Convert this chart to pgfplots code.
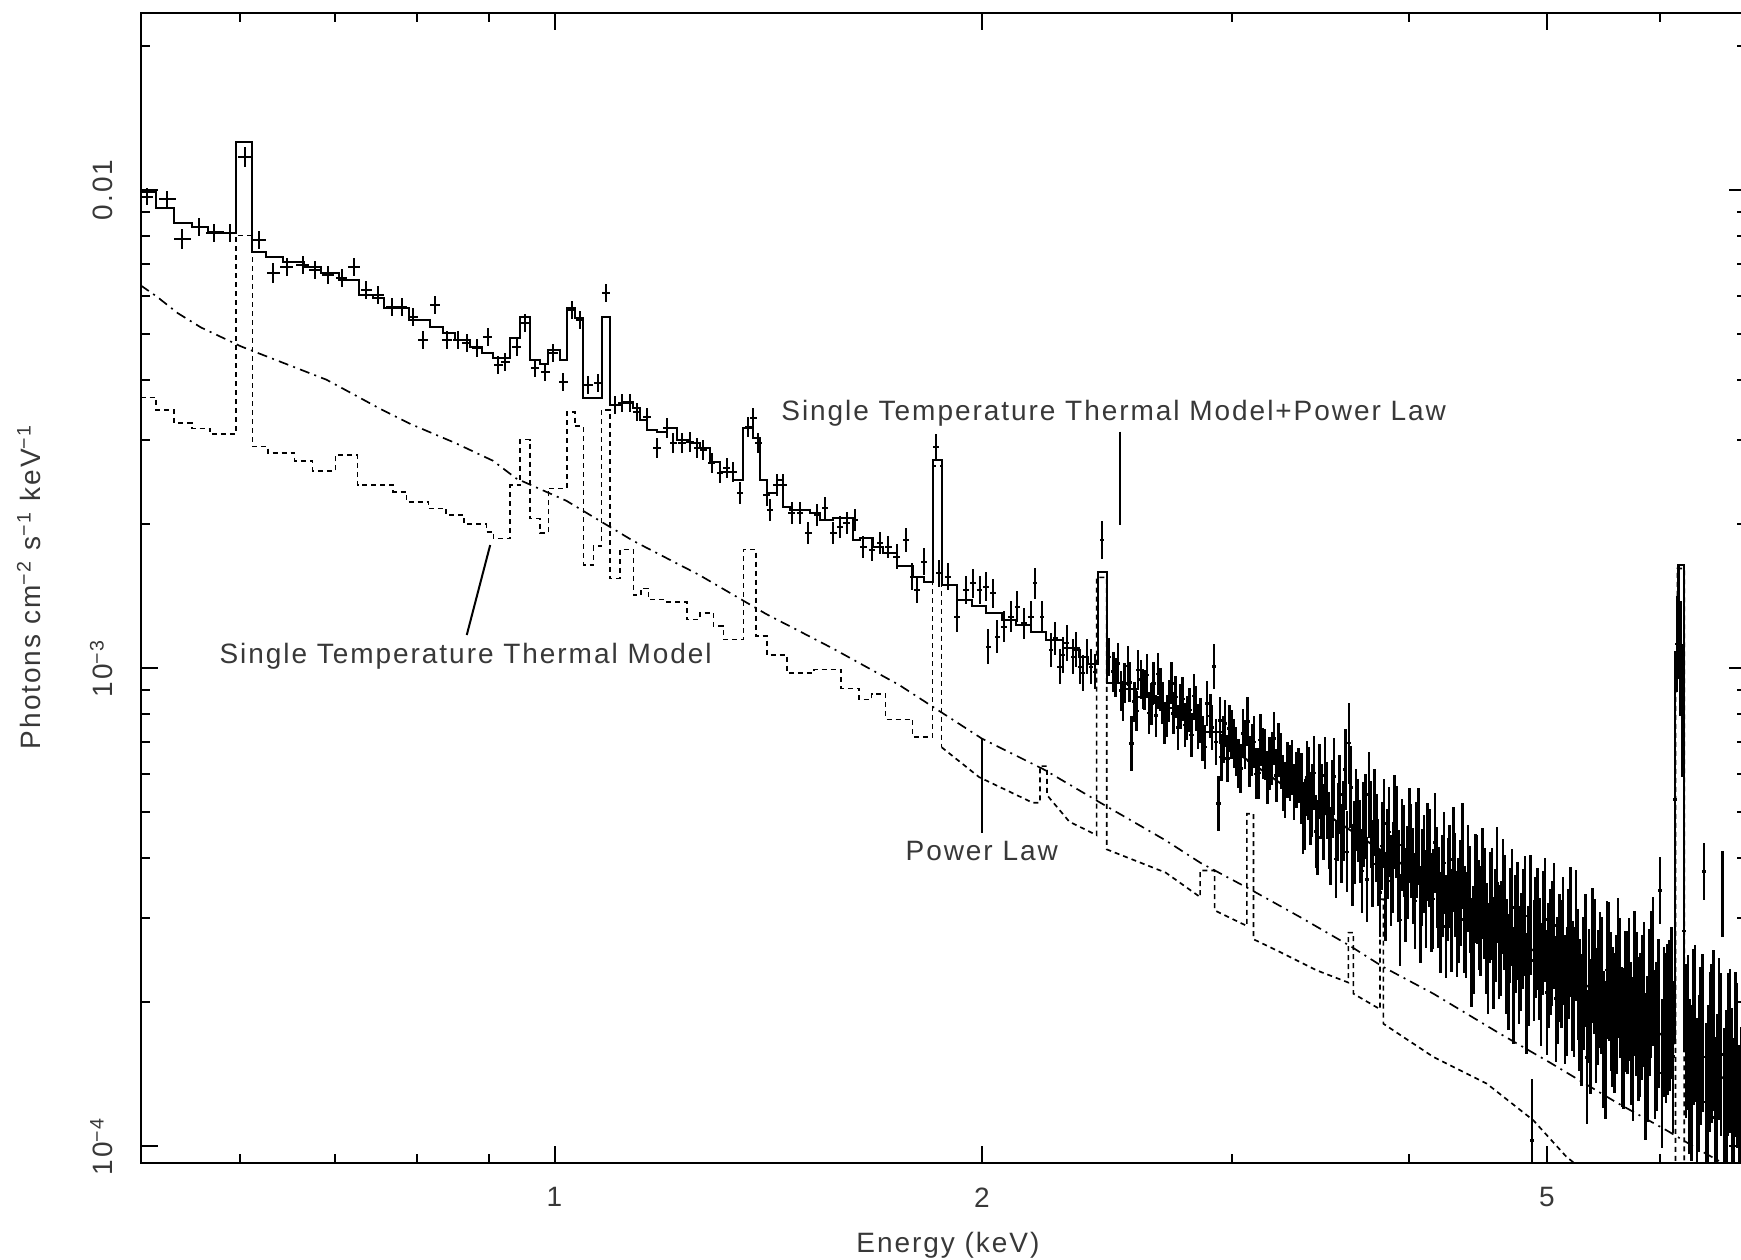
\documentclass[border=0pt]{standalone}
\usepackage{fontspec}
\setmainfont{Liberation Sans}[LetterSpace=7]
\usepackage{pgfplots}
\pgfplotsset{compat=1.18}
\usepackage{pgfplotstable}
\newcommand\lblfont{\fontsize{8.4}{10}\selectfont}
\colorlet{txt}{black!78}

% columns: log10(E/keV), log10(photons cm^-2 s^-1 keV^-1), half bin width, error
\pgfplotstableread{
x y ex ey
-0.2867 -2.0139 0.0042 0.0174
-0.2726 -2.0195 0.0060 0.0163
-0.2622 -2.1034 0.0060 0.0209
-0.2506 -2.0767 0.0055 0.0186
-0.2396 -2.0906 0.0055 0.0186
-0.2286 -2.0906 0.0050 0.0186
-0.2182 -1.9303 0.0050 0.0209
-0.2081 -2.1048 0.0050 0.0186
-0.1981 -2.1731 0.0047 0.0209
-0.1887 -2.1605 0.0047 0.0186
-0.1773 -2.1570 0.0047 0.0186
-0.1688 -2.1675 0.0042 0.0186
-0.1594 -2.1779 0.0042 0.0186
-0.1500 -2.1849 0.0042 0.0186
-0.1411 -2.1605 0.0042 0.0186
-0.1327 -2.2093 0.0039 0.0186
-0.1242 -2.2197 0.0039 0.0186
-0.1145 -2.2441 0.0039 0.0186
-0.1075 -2.2441 0.0035 0.0186
-0.0994 -2.2650 0.0035 0.0186
-0.0923 -2.3138 0.0035 0.0186
-0.0841 -2.2407 0.0035 0.0186
-0.0759 -2.3138 0.0035 0.0186
-0.0677 -2.3138 0.0035 0.0186
-0.0618 -2.3208 0.0031 0.0186
-0.0547 -2.3312 0.0031 0.0186
-0.0470 -2.3069 0.0031 0.0186
-0.0395 -2.3663 0.0031 0.0186
-0.0348 -2.3594 0.0031 0.0186
-0.0266 -2.3278 0.0031 0.0186
-0.0207 -2.2790 0.0031 0.0186
-0.0137 -2.3733 0.0031 0.0186
-0.0066 -2.3803 0.0031 0.0186
-0.0008 -2.3417 0.0031 0.0186
0.0063 -2.4012 0.0031 0.0186
0.0121 -2.2511 0.0031 0.0186
0.0180 -2.2720 0.0031 0.0186
0.0238 -2.4081 0.0031 0.0186
0.0309 -2.4046 0.0031 0.0186
0.0363 -2.2163 0.0027 0.0186
0.0426 -2.4499 0.0027 0.0186
0.0473 -2.4465 0.0027 0.0186
0.0532 -2.4465 0.0027 0.0186
0.0579 -2.4639 0.0027 0.0186
0.0650 -2.4743 0.0027 0.0186
0.0720 -2.5405 0.0027 0.0209
0.0790 -2.4987 0.0027 0.0209
0.0837 -2.5301 0.0027 0.0209
0.0896 -2.5301 0.0027 0.0209
0.0955 -2.5266 0.0027 0.0209
0.1002 -2.5405 0.0023 0.0209
0.1048 -2.5440 0.0023 0.0209
0.1107 -2.5719 0.0023 0.0209
0.1166 -2.5928 0.0023 0.0209
0.1213 -2.5824 0.0023 0.0209
0.1260 -2.5893 0.0023 0.0209
0.1307 -2.6346 0.0023 0.0232
0.1365 -2.4952 0.0023 0.0209
0.1400 -2.4778 0.0023 0.0209
0.1436 -2.5301 0.0023 0.0209
0.1494 -2.6381 0.0023 0.0232
0.1518 -2.6695 0.0023 0.0232
0.1565 -2.6172 0.0023 0.0232
0.1611 -2.6172 0.0023 0.0232
0.1670 -2.6767 0.0023 0.0232
0.1729 -2.6767 0.0023 0.0232
0.1788 -2.7185 0.0023 0.0232
0.1847 -2.6801 0.0023 0.0232
0.1905 -2.6662 0.0023 0.0232
0.1964 -2.7185 0.0023 0.0232
0.2011 -2.7045 0.0023 0.0232
0.2058 -2.6976 0.0023 0.0232
0.2117 -2.6906 0.0023 0.0232
0.2176 -2.7464 0.0023 0.0232
0.2235 -2.7533 0.0023 0.0232
0.2293 -2.7394 0.0023 0.0232
0.2352 -2.7464 0.0023 0.0232
0.2410 -2.7673 0.0023 0.0256
0.2474 -2.7324 0.0020 0.0256
0.2521 -2.8091 0.0020 0.0279
0.2553 -2.8369 0.0020 0.0279
0.2600 -2.7777 0.0020 0.0279
0.2687 -2.5387 0.0020 0.0279
0.2710 -2.8021 0.0020 0.0279
0.2773 -2.8091 0.0020 0.0279
0.2835 -2.8927 0.0020 0.0325
0.2898 -2.8369 0.0020 0.0302
0.2945 -2.8230 0.0020 0.0302
0.2993 -2.8369 0.0020 0.0302
0.3040 -2.8300 0.0020 0.0302
0.3056 -2.9554 0.0020 0.0372
0.3087 -2.8439 0.0020 0.0302
0.3119 -2.9345 0.0020 0.0348
0.3166 -2.9136 0.0020 0.0325
0.3213 -2.8927 0.0020 0.0325
0.3260 -2.8718 0.0020 0.0325
0.3307 -2.9066 0.0020 0.0325
0.3354 -2.8927 0.0020 0.0325
0.3385 -2.8230 0.0016 0.0325
0.3433 -2.8927 0.0016 0.0325
0.3496 -2.9626 0.0016 0.0348
0.3527 -2.9382 0.0016 0.0348
0.3558 -2.9972 0.0016 0.0372
0.3582 -2.9731 0.0016 0.0372
0.3606 -2.9484 0.0016 0.0372
0.3653 -2.9765 0.0016 0.0372
0.3676 -2.9615 0.0016 0.0372
0.3700 -2.9972 0.0016 0.0372
0.3723 -3.0102 0.0016 0.0372
0.3747 -2.9765 0.0016 0.0372
0.3779 -2.9972 0.0016 0.0372
0.3805 -3.0079 0.0016 0.0372
0.3857 -2.7324 0.0016 0.0395
0.3905 -2.9765 0.0016 0.0395
}\specA

\pgfplotstableread{
x y ex ey
0.3936 -3.0079 0.0016 0.0418
0.3952 -3.0200 0.0016 0.0418
0.3967 -2.9905 0.0016 0.0418
0.3991 -3.0474 0.0016 0.0418
0.4003 -3.0700 0.0016 0.0418
0.4015 -3.0323 0.0016 0.0418
0.4038 -2.9963 0.0016 0.0418
0.4050 -3.0300 0.0016 0.0418
0.4062 -3.1577 0.0016 0.0581
0.4085 -3.0706 0.0016 0.0418
0.4097 -3.0900 0.0016 0.0418
0.4109 -3.0044 0.0016 0.0418
0.4132 -3.0242 0.0016 0.0418
0.4144 -3.0450 0.0016 0.0418
0.4156 -3.0462 0.0016 0.0418
0.4172 -3.0150 0.0016 0.0441
0.4188 -3.0939 0.0016 0.0441
0.4204 -3.0750 0.0016 0.0441
0.4219 -3.0323 0.0016 0.0441
0.4235 -3.1000 0.0016 0.0441
0.4250 -3.0125 0.0016 0.0441
0.4266 -3.0450 0.0016 0.0441
0.4281 -3.0741 0.0016 0.0441
0.4297 -3.1150 0.0016 0.0441
0.4313 -3.1010 0.0016 0.0441
0.4328 -3.0700 0.0016 0.0441
0.4344 -3.0323 0.0016 0.0441
0.4360 -3.0950 0.0016 0.0441
0.4375 -3.0613 0.0016 0.0441
0.4391 -3.1250 0.0016 0.0465
0.4407 -3.0811 0.0016 0.0465
0.4423 -3.0650 0.0016 0.0465
0.4439 -3.1196 0.0016 0.0465
0.4455 -3.1050 0.0016 0.0465
0.4471 -3.0880 0.0016 0.0465
0.4486 -3.1400 0.0016 0.0465
0.4502 -3.0590 0.0016 0.0465
0.4518 -3.0850 0.0016 0.0465
0.4533 -3.1229 0.0016 0.0465
0.4549 -3.1100 0.0016 0.0465
0.4564 -3.1473 0.0016 0.0465
0.4580 -3.1650 0.0016 0.0465
0.4596 -3.0741 0.0016 0.0465
0.4619 -3.1010 0.0016 0.0465
0.4631 -3.1250 0.0016 0.0465
0.4643 -2.9972 0.0016 0.0465
0.4659 -3.1550 0.0016 0.0488
0.4675 -3.2832 0.0016 0.0581
0.4686 -3.1100 0.0016 0.0488
0.4698 -3.1868 0.0016 0.0488
0.4710 -3.1500 0.0016 0.0488
0.4722 -3.1159 0.0016 0.0488
0.4738 -3.1900 0.0016 0.0488
0.4753 -3.1266 0.0016 0.0488
0.4769 -3.1400 0.0016 0.0511
0.4785 -3.1577 0.0016 0.0511
0.4800 -3.1750 0.0016 0.0511
0.4816 -3.2007 0.0016 0.0511
0.4832 -3.2100 0.0016 0.0511
0.4848 -3.1368 0.0016 0.0511
0.4863 -3.1600 0.0016 0.0511
0.4879 -3.1124 0.0016 0.0511
0.4895 -3.1950 0.0016 0.0534
0.4911 -3.1717 0.0016 0.0534
0.4926 -3.1550 0.0016 0.0534
0.4942 -3.2216 0.0016 0.0534
0.4958 -3.2200 0.0016 0.0534
0.4973 -3.1508 0.0016 0.0534
0.4989 -3.1800 0.0016 0.0534
0.5005 -3.1821 0.0016 0.0534
0.5021 -3.2300 0.0016 0.0557
0.5037 -3.1996 0.0016 0.0557
0.5052 -3.1900 0.0016 0.0557
0.5068 -3.1473 0.0016 0.0557
0.5084 -3.2250 0.0016 0.0557
0.5099 -3.1717 0.0016 0.0557
0.5115 -3.1950 0.0016 0.0581
0.5131 -3.2402 0.0016 0.0581
0.5146 -3.2550 0.0016 0.0581
0.5162 -3.2135 0.0016 0.0581
0.5178 -3.2200 0.0016 0.0581
0.5193 -3.2079 0.0016 0.0581
0.5209 -3.2600 0.0016 0.0581
0.5224 -3.2344 0.0016 0.0581
0.5240 -3.2250 0.0016 0.0581
0.5259 -3.2519 0.0013 0.074
0.5272 -3.3144 0.0013 0.075
0.5285 -3.3069 0.0013 0.075
0.5298 -3.2294 0.0013 0.076
0.5311 -3.2420 0.0013 0.076
0.5324 -3.2945 0.0013 0.077
0.5336 -3.2770 0.0013 0.076
0.5349 -3.2195 0.0013 0.077
0.5362 -3.3420 0.0013 0.077
0.5375 -3.3545 0.0013 0.078
0.5388 -3.2371 0.0013 0.078
0.5401 -3.2796 0.0013 0.079
0.5414 -3.3221 0.0013 0.079
0.5427 -3.2246 0.0013 0.080
0.5440 -3.2772 0.0013 0.080
0.5453 -3.3397 0.0013 0.081
0.5465 -3.3722 0.0013 0.081
0.5478 -3.2747 0.0013 0.082
0.5491 -3.2272 0.0013 0.081
0.5504 -3.3997 0.0013 0.082
0.5517 -3.3223 0.0013 0.082
0.5530 -3.2648 0.0013 0.083
0.5543 -3.3673 0.0013 0.083
0.5556 -3.3198 0.0013 0.084
0.5569 -3.2123 0.0013 0.084
0.5582 -3.3848 0.0013 0.085
0.5594 -3.1574 0.0013 0.085
0.5607 -3.2499 0.0013 0.086
0.5620 -3.4124 0.0013 0.086
0.5633 -3.3649 0.0013 0.087
0.5646 -3.2974 0.0013 0.086
0.5659 -3.3199 0.0013 0.087
0.5672 -3.3625 0.0013 0.087
0.5685 -3.4250 0.0013 0.088
0.5698 -3.3275 0.0013 0.088
0.5711 -3.3100 0.0013 0.089
0.5723 -3.4425 0.0013 0.089
0.5736 -3.2650 0.0013 0.090
0.5749 -3.3276 0.0013 0.090
0.5762 -3.4101 0.0013 0.091
0.5775 -3.3026 0.0013 0.091
0.5788 -3.3551 0.0013 0.092
0.5801 -3.4077 0.0013 0.091
0.5814 -3.4702 0.0013 0.092
0.5827 -3.3727 0.0013 0.092
0.5840 -3.3252 0.0013 0.093
0.5852 -3.4777 0.0013 0.093
0.5865 -3.3902 0.0013 0.094
0.5878 -3.3428 0.0013 0.094
0.5891 -3.4453 0.0013 0.095
0.5904 -3.4178 0.0013 0.095
0.5917 -3.3203 0.0013 0.096
0.5930 -3.3428 0.0013 0.096
0.5943 -3.4353 0.0013 0.097
0.5956 -3.5279 0.0013 0.096
0.5969 -3.3704 0.0013 0.097
0.5981 -3.3829 0.0013 0.097
0.5994 -3.4754 0.0013 0.098
0.6007 -3.4279 0.0013 0.098
0.6020 -3.3504 0.0013 0.099
0.6033 -3.3830 0.0013 0.099
0.6046 -3.4355 0.0013 0.100
0.6059 -3.4880 0.0013 0.100
0.6072 -3.3805 0.0013 0.101
0.6085 -3.3531 0.0013 0.101
0.6098 -3.5155 0.0013 0.102
0.6110 -3.4381 0.0013 0.101
0.6123 -3.4106 0.0013 0.102
0.6136 -3.4831 0.0013 0.102
0.6149 -3.3856 0.0013 0.103
0.6162 -3.3982 0.0013 0.103
0.6175 -3.4907 0.0013 0.104
0.6188 -3.4832 0.0013 0.104
0.6201 -3.3657 0.0013 0.105
0.6214 -3.4382 0.0013 0.105
0.6227 -3.4807 0.0013 0.106
0.6239 -3.5333 0.0013 0.106
0.6252 -3.4558 0.0013 0.107
0.6265 -3.4083 0.0013 0.106
0.6278 -3.5408 0.0013 0.107
0.6291 -3.4633 0.0013 0.107
0.6304 -3.4358 0.0013 0.108
0.6317 -3.5284 0.0013 0.108
0.6330 -3.4009 0.0013 0.109
0.6343 -3.4534 0.0013 0.109
0.6356 -3.5359 0.0013 0.110
0.6368 -3.5084 0.0013 0.110
0.6381 -3.4709 0.0013 0.111
0.6394 -3.3935 0.0013 0.111
0.6407 -3.5260 0.0013 0.112
0.6420 -3.5385 0.0013 0.111
0.6433 -3.4410 0.0013 0.112
0.6446 -3.4836 0.0013 0.112
0.6459 -3.5961 0.0013 0.113
0.6472 -3.5686 0.0013 0.113
0.6485 -3.4611 0.0013 0.114
0.6497 -3.4636 0.0013 0.114
0.6510 -3.5161 0.0013 0.115
0.6523 -3.5287 0.0013 0.115
0.6536 -3.4512 0.0013 0.116
0.6549 -3.4937 0.0013 0.116
0.6562 -3.5662 0.0013 0.117
0.6575 -3.6087 0.0013 0.116
0.6588 -3.5012 0.0013 0.117
0.6601 -3.4938 0.0013 0.117
0.6614 -3.5963 0.0013 0.118
0.6626 -3.5388 0.0013 0.118
0.6639 -3.4513 0.0013 0.119
0.6652 -3.5738 0.0013 0.119
0.6665 -3.5663 0.0013 0.120
0.6678 -3.4789 0.0013 0.120
0.6691 -3.5114 0.0013 0.121
0.6704 -3.6039 0.0013 0.121
0.6717 -3.6364 0.0013 0.121
0.6730 -3.5390 0.0013 0.121
0.6743 -3.5015 0.0013 0.122
0.6755 -3.6640 0.0013 0.122
0.6768 -3.5565 0.0013 0.123
0.6781 -3.5290 0.0013 0.123
0.6794 -3.6215 0.0013 0.124
0.6807 -3.5941 0.0013 0.124
0.6820 -3.5466 0.0013 0.125
0.6833 -3.5191 0.0013 0.125
0.6846 -3.6816 0.0013 0.126
0.6859 -3.6241 0.0013 0.126
0.6872 -3.5166 0.0013 0.126
0.6884 -3.9892 0.0013 0.130
0.6897 -3.6117 0.0013 0.127
0.6910 -3.5642 0.0013 0.127
0.6923 -3.5467 0.0013 0.128
0.6936 -3.6092 0.0013 0.128
0.6949 -3.6617 0.0013 0.129
0.6962 -3.5543 0.0013 0.129
0.6975 -3.5268 0.0013 0.130
0.6988 -3.6793 0.0013 0.131
0.7001 -3.6218 0.0013 0.131
0.7013 -3.5943 0.0013 0.131
0.7026 -3.5768 0.0013 0.131
0.7039 -3.5394 0.0013 0.132
0.7052 -3.6919 0.0013 0.132
0.7065 -3.6544 0.0013 0.133
0.7078 -3.6069 0.0013 0.133
0.7091 -3.6195 0.0013 0.134
0.7104 -3.5720 0.0013 0.134
0.7117 -3.6945 0.0013 0.135
0.7130 -3.6770 0.0013 0.135
0.7142 -3.5995 0.0013 0.136
0.7155 -3.5520 0.0013 0.136
0.7168 -3.6646 0.0013 0.136
0.7181 -3.6771 0.0013 0.136
0.7194 -3.5596 0.0013 0.137
0.7207 -3.6421 0.0013 0.137
0.7220 -3.7046 0.0013 0.138
0.7233 -3.7371 0.0013 0.138
0.7246 -3.6597 0.0013 0.139
0.7259 -3.6122 0.0013 0.139
0.7271 -3.8147 0.0013 0.140
0.7284 -3.6872 0.0013 0.140
0.7297 -3.7497 0.0013 0.141
0.7310 -3.6022 0.0013 0.141
0.7323 -3.6248 0.0013 0.141
0.7336 -3.7273 0.0013 0.141
0.7349 -3.6898 0.0013 0.142
0.7362 -3.6523 0.0013 0.142
0.7375 -3.6649 0.0013 0.143
0.7388 -3.7774 0.0013 0.143
0.7400 -3.7999 0.0013 0.144
0.7413 -3.6324 0.0013 0.144
0.7426 -3.6349 0.0013 0.145
0.7439 -3.6974 0.0013 0.145
0.7452 -3.7300 0.0013 0.146
0.7465 -3.7425 0.0013 0.146
0.7478 -3.7040 0.0013 0.146
0.7491 -3.6275 0.0013 0.146
0.7504 -3.6700 0.0013 0.147
0.7517 -3.7725 0.0013 0.147
0.7529 -3.7751 0.0013 0.148
0.7542 -3.6976 0.0013 0.148
0.7555 -3.7001 0.0013 0.149
0.7568 -3.6726 0.0013 0.149
0.7581 -3.7651 0.0013 0.150
0.7594 -3.7976 0.0013 0.150
0.7607 -3.6602 0.0013 0.151
0.7620 -3.7027 0.0013 0.151
0.7633 -3.7552 0.0013 0.151
0.7646 -3.7477 0.0013 0.151
0.7658 -3.7102 0.0013 0.152
0.7671 -3.6828 0.0013 0.152
0.7684 -3.8353 0.0013 0.153
0.7697 -3.7978 0.0013 0.153
0.7710 -3.7003 0.0013 0.154
0.7723 -3.6628 0.0013 0.154
0.7736 -3.6353 0.0013 0.155
0.7749 -3.7879 0.0013 0.155
0.7762 -3.7704 0.0013 0.156
0.7775 -3.7229 0.0013 0.156
0.7787 -3.4654 0.0013 0.070
0.7800 -3.8479 0.0013 0.156
0.7813 -3.7404 0.0013 0.157
0.7826 -3.7530 0.0013 0.157
0.7839 -3.7355 0.0013 0.158
0.7852 -3.7280 0.0013 0.158
0.7865 -3.7005 0.0013 0.159
0.7878 -3.8130 0.0013 0.159
0.7891 -3.2751 0.0013 0.160
0.7904 -2.9500 0.0013 0.100
0.7916 -2.9034 0.0013 0.120
0.7930 -2.9800 0.0013 0.120
0.7942 -3.0892 0.0013 0.140
0.7956 -3.5500 0.0013 0.150
0.7968 -3.7807 0.0013 0.161
0.7981 -3.7632 0.0013 0.162
0.7994 -3.8557 0.0013 0.162
0.8007 -3.8682 0.0013 0.163
0.8020 -3.7508 0.0013 0.163
0.8033 -3.7433 0.0013 0.164
0.8045 -3.8958 0.0013 0.164
0.8059 -3.8483 0.0013 0.165
0.8071 -3.7908 0.0013 0.165
0.8085 -3.7633 0.0013 0.165
0.8097 -3.4260 0.0013 0.060
0.8110 -3.9084 0.0013 0.166
0.8123 -3.8709 0.0013 0.166
0.8136 -3.8034 0.0013 0.167
0.8149 -3.7859 0.0013 0.167
0.8162 -3.7584 0.0013 0.168
0.8174 -3.9410 0.0013 0.168
0.8188 -3.8935 0.0013 0.169
0.8200 -3.7760 0.0013 0.169
0.8214 -3.8085 0.0013 0.170
0.8226 -3.4725 0.0013 0.090
0.8239 -3.9235 0.0013 0.170
0.8252 -3.8861 0.0013 0.171
0.8265 -3.8086 0.0013 0.171
0.8278 -3.8011 0.0013 0.172
0.8291 -3.8836 0.0013 0.172
0.8303 -3.9461 0.0013 0.172
0.8317 -3.8087 0.0013 0.173
0.8329 -3.8312 0.0013 0.173
0.8342 -3.9637 0.0013 0.174
0.8355 -3.9262 0.0013 0.174
}\specB

\begin{document}
\begin{tikzpicture}
\path[use as bounding box] (-42.18pt,-28.8pt) rectangle (480.12pt,348.9pt);
\begin{axis}[
  at={(0pt,0pt)}, anchor=south west,
  scale only axis, width=481.53pt, height=345.09pt,
  xmin=-0.2915, xmax=0.8389, ymin=-4.0358, ymax=-1.6291,
  axis line style={line width=0.6pt},
  every tick/.style={black, line width=0.6pt},
  major tick length=5.1pt, minor tick length=2.7pt,
  tick align=inside,
  xtick={0,0.30103,0.69897}, xticklabels={1,2,5},
  minor xtick={-0.2218,-0.1549,-0.0969,-0.0458,0.4771,0.6021,0.7782},
  ytick={-4,-3,-2},
  yticklabels={10\textsuperscript{−4},10\textsuperscript{−3},0.01},
  minor ytick={-3.6990,-3.5229,-3.3979,-3.3010,-3.2218,-3.1549,-3.0969,-3.0458,
    -2.6990,-2.5229,-2.3979,-2.3010,-2.2218,-2.1549,-2.0969,-2.0458,-1.6990},
  xticklabel style={font=\lblfont, text=txt, inner sep=0pt, anchor=north, yshift=-7.2pt},
  yticklabel style={font=\lblfont, text=txt, inner sep=0pt, anchor=south, xshift=-8pt, rotate=90},
  /pgf/number format/assume math mode=true,
  clip mode=individual,
]
% data with error bars (low energies)
\addplot[black, only marks, mark=*, mark size=0pt,
  error bars/.cd, x dir=both, x explicit, y dir=both, y explicit,
  error mark=none, error bar style={line width=0.6pt, solid, black}]
  table[x=x, y=y, x error=ex, y error=ey] {\specA};
% data with error bars (high energies, narrow bins)
\addplot[black, only marks, mark=*, mark size=0pt,
  error bars/.cd, x dir=both, x explicit, y dir=both, y explicit,
  error mark=none, error bar style={line width=0.75pt, solid, black}]
  table[x=x, y=y, x error=ex, y error=ey] {\specB};

% total model: thermal + power law
\addplot[const plot, black, line width=0.6pt, mark=none] coordinates {
(-0.2915,-2.0035) (-0.2805,-2.0383) (-0.2679,-2.0697) (-0.2553,-2.0767)
(-0.2443,-2.0871) (-0.2333,-2.0906) (-0.2245,-1.8990) (-0.2128,-2.1305)
(-0.2034,-2.1396) (-0.1909,-2.1501) (-0.1767,-2.1605) (-0.1641,-2.1745)
(-0.1515,-2.1884) (-0.1374,-2.2197) (-0.1280,-2.2267) (-0.1201,-2.2476)
(-0.1028,-2.2720) (-0.0876,-2.2859) (-0.0783,-2.2999) (-0.0701,-2.3138)
(-0.0595,-2.3278) (-0.0512,-2.3417) (-0.0430,-2.3522) (-0.0313,-2.3103)
(-0.0242,-2.2650) (-0.0172,-2.3556) (-0.0102,-2.3645) (-0.0043,-2.3347)
(0.0039,-2.3556) (0.0086,-2.2476) (0.0145,-2.2685) (0.0203,-2.4360)
(0.0332,-2.2650) (0.0391,-2.4499) (0.0474,-2.4430) (0.0556,-2.4569)
(0.0603,-2.4813) (0.0650,-2.5022) (0.0720,-2.5057) (0.0790,-2.4987)
(0.0861,-2.5231) (0.0955,-2.5301) (0.1025,-2.5405) (0.1095,-2.5684)
(0.1166,-2.5893) (0.1260,-2.6067) (0.1330,-2.4987) (0.1400,-2.5196)
(0.1447,-2.6067) (0.1494,-2.6346) (0.1565,-2.6067) (0.1611,-2.6627)
(0.1658,-2.6697) (0.1799,-2.6767) (0.1870,-2.6906) (0.1964,-2.6871)
(0.2105,-2.7324) (0.2152,-2.7289) (0.2246,-2.7464) (0.2316,-2.7603)
(0.2410,-2.7872) (0.2522,-2.8091) (0.2600,-2.8198) (0.2663,-2.5649)
(0.2726,-2.8267) (0.2835,-2.8569) (0.2937,-2.8709) (0.3038,-2.8848)
(0.3148,-2.8997) (0.3249,-2.9103) (0.3359,-2.9243) (0.3464,-2.9415)
(0.3578,-2.9591) (0.3695,-2.9777) (0.3758,-2.9916) (0.3826,-2.7986)
(0.3889,-3.0323) (0.3992,-3.0451) (0.4094,-3.0602) (0.4250,-3.0846)
(0.4407,-3.1078) (0.4563,-3.1333) (0.4719,-3.1589)};
\addplot[black, line width=0.6pt, mark=none] coordinates {
(0.4719,-3.1589) (0.5251,-3.2704) (0.7784,-3.7652) (0.7894,-3.7861)};
\addplot[const plot, black, line width=0.6pt, mark=none] coordinates {
(0.7894,-3.7861) (0.7894,-2.9661) (0.7909,-2.7849) (0.7956,-3.8023)
(0.8066,-3.8139) (0.8113,-3.8349)};
\addplot[black, line width=0.6pt, mark=none] coordinates {
(0.8113,-3.8349) (0.8230,-3.8581) (0.8389,-3.8906)};

% power law component
\addplot[black, line width=0.5pt, mark=none,
  dash pattern=on 3pt off 1.6pt on 0.6pt off 1.6pt] coordinates {
(-0.2915,-2.1995) (-0.2802,-2.2228) (-0.2654,-2.2576) (-0.2489,-2.2878)
(-0.2208,-2.3273) (-0.1927,-2.3598) (-0.1606,-2.3970) (-0.1418,-2.4272)
(-0.1231,-2.4574) (-0.1012,-2.4899) (-0.0699,-2.5294) (-0.0433,-2.5666)
(-0.0269,-2.6037) (0.0083,-2.6502) (0.0552,-2.7338) (0.1021,-2.8058)
(0.1490,-2.8871) (0.1959,-2.9591) (0.2428,-3.0358) (0.3007,-3.1473)
(0.3445,-3.2123) (0.3844,-3.2820) (0.4305,-3.3610) (0.4547,-3.4074)
(0.4899,-3.4632) (0.5251,-3.5213) (0.5603,-3.5817) (0.5837,-3.6258)
(0.6189,-3.6815) (0.6658,-3.7652) (0.7010,-3.8256) (0.7479,-3.9092)
(0.7831,-3.9673) (0.8066,-4.0091) (0.8261,-4.0416)};

% single temperature thermal component
\addplot[const plot, black, line width=0.5pt, mark=none,
  dash pattern=on 1.5pt off 1.2pt] coordinates {
(-0.2915,-2.4342) (-0.2805,-2.4597) (-0.2679,-2.4876) (-0.2553,-2.4992)
(-0.2427,-2.5108) (-0.2245,-2.0950) (-0.2128,-2.5364) (-0.2018,-2.5503)
(-0.1830,-2.5666) (-0.1704,-2.5875) (-0.1543,-2.5549) (-0.1387,-2.6177)
(-0.1137,-2.6316) (-0.1043,-2.6525) (-0.0887,-2.6664) (-0.0762,-2.6804)
(-0.0636,-2.6990) (-0.0480,-2.7152) (-0.0430,-2.7292) (-0.0313,-2.6177)
(-0.0242,-2.5224) (-0.0172,-2.6873) (-0.0102,-2.7175) (-0.0043,-2.6246)
(0.0086,-2.4643) (0.0145,-2.4945) (0.0203,-2.7849) (0.0274,-2.7454)
(0.0332,-2.4597) (0.0391,-2.8128) (0.0461,-2.7524) (0.0556,-2.8476)
(0.0607,-2.8337) (0.0661,-2.8569) (0.0790,-2.8616) (0.0931,-2.8987)
(0.1025,-2.8848) (0.1119,-2.9127) (0.1189,-2.9405) (0.1330,-2.7524)
(0.1420,-2.9336) (0.1498,-2.9731) (0.1639,-3.0102) (0.1826,-3.0033)
(0.2018,-3.0428) (0.2144,-3.0660) (0.2233,-3.0544) (0.2332,-3.1078)
(0.2522,-3.1450) (0.2663,-2.5782) (0.2726,-3.1659)};
\addplot[black, line width=0.5pt, mark=none,
  dash pattern=on 1.5pt off 1.2pt] coordinates {
(0.2726,-3.1659) (0.2991,-3.2286) (0.3367,-3.2820) (0.3419,-3.2820)
(0.3419,-3.2054) (0.3468,-3.2054) (0.3468,-3.2658) (0.3625,-3.3215)
(0.3818,-3.3500) (0.3818,-2.8105) (0.3889,-2.8105) (0.3889,-3.3796)
(0.4305,-3.4284) (0.4547,-3.4795) (0.4547,-3.4237) (0.4649,-3.4237)
(0.4649,-3.5073) (0.4876,-3.5398) (0.4876,-3.3052) (0.4923,-3.3052)
(0.4923,-3.5677) (0.5134,-3.5979) (0.5368,-3.6328) (0.5591,-3.6583)
(0.5591,-3.5538) (0.5626,-3.5538) (0.5626,-3.6815) (0.5814,-3.7141)
(0.5814,-3.4841) (0.5837,-3.4841) (0.5837,-3.7443) (0.6189,-3.8139)
(0.6565,-3.8697) (0.6893,-3.9464) (0.7127,-4.0230) (0.7354,-4.0764)
(0.7862,-4.1603) (0.7894,-4.1650) (0.7894,-2.9963) (0.7909,-2.9963)
(0.7909,-2.7919) (0.7956,-2.7919) (0.7956,-4.1800) (0.8389,-4.2500)};

% annotations
\begin{scope}[every node/.style={font=\lblfont, text=txt, inner sep=0pt}]
\node[anchor=base west] at (axis cs:0.1593,-2.4827) {Single Temperature Thermal Model+Power Law};
\node[anchor=base west] at (axis cs:-0.2364,-2.9902) {Single Temperature Thermal Model};
\node[anchor=base west] at (axis cs:0.2468,-3.4030) {Power Law};
\node[anchor=base] at (axis cs:0.2771,-4.2239) {Energy (keV)};
\node[anchor=base, rotate=90] at (axis cs:-0.3623,-2.8295) {Photons cm\textsuperscript{−2} s\textsuperscript{−1} keV\textsuperscript{−1}};
\end{scope}
\draw[line width=0.6pt] (axis cs:0.3983,-2.5057) -- (axis cs:0.3983,-2.7013);
\draw[line width=0.6pt] (axis cs:-0.0618,-2.9312) -- (axis cs:-0.0453,-2.7429);
\draw[line width=0.6pt] (axis cs:0.3009,-3.1494) -- (axis cs:0.3009,-3.3459);
\end{axis}
\end{tikzpicture}
\end{document}
